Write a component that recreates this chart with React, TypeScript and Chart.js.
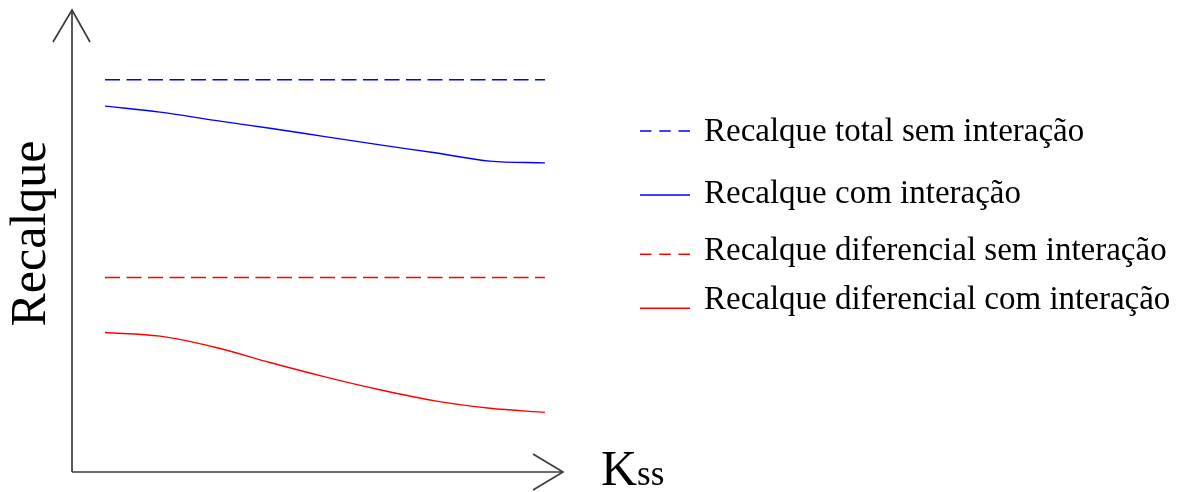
import React, { useEffect, useRef } from "react";
import { Chart, registerables } from "chart.js";

Chart.register(...registerables);

// Kss positions (arbitrary units) and settlement values (arbitrary units)
const kss = [0, 1.25, 2.5, 3.75, 5, 6.25, 7.5, 8.75, 10];
const totalSemInteracao = [84.9, 84.9, 84.9, 84.9, 84.9, 84.9, 84.9, 84.9, 84.9];
const totalComInteracao = [79.2, 77.9, 76.1, 74.4, 72.6, 70.8, 69.1, 67.3, 66.9];
const difSemInteracao = [42.1, 42.1, 42.1, 42.1, 42.1, 42.1, 42.1, 42.1, 42.1];
const difComInteracao = [30.2, 29.4, 27.0, 23.7, 20.6, 17.8, 15.4, 13.8, 12.9];

const seriesLabels = [
  "Recalque total sem interação",
  "Recalque com interação",
  "Recalque diferencial sem interação",
  "Recalque diferencial com interação",
];
const yAxisTitle = "Recalque";
const xAxisTitleMain = "K";
const xAxisTitleSub = "ss";

const SERIF = '"Liberation Serif", "DejaVu Serif", serif';

const decorPlugin = {
  id: "decor",
  afterDraw(chart: any) {
    const { ctx, chartArea } = chart;
    const { left, top, right, bottom } = chartArea;
    ctx.save();
    // axes
    ctx.strokeStyle = "#3c3c3c";
    ctx.lineWidth = 1.7;
    ctx.setLineDash([]);
    ctx.beginPath();
    ctx.moveTo(left, bottom);
    ctx.lineTo(left, top);
    ctx.moveTo(left, bottom);
    ctx.lineTo(right, bottom);
    ctx.stroke();
    // arrowheads
    ctx.beginPath();
    ctx.moveTo(left - 19, top + 32);
    ctx.lineTo(left, top);
    ctx.lineTo(left + 18, top + 32);
    ctx.stroke();
    ctx.beginPath();
    ctx.moveTo(right - 30, bottom - 18);
    ctx.lineTo(right, bottom);
    ctx.lineTo(right - 30, bottom + 18);
    ctx.stroke();

    // y title
    ctx.fillStyle = "#000";
    ctx.save();
    ctx.translate(45, 233.5);
    ctx.rotate(-Math.PI / 2);
    ctx.font = `50px ${SERIF}`;
    ctx.textAlign = "center";
    ctx.textBaseline = "alphabetic";
    ctx.fillText(yAxisTitle, 0, 0);
    ctx.restore();

    // x title
    ctx.textAlign = "left";
    ctx.textBaseline = "alphabetic";
    ctx.font = `50px ${SERIF}`;
    ctx.fillText(xAxisTitleMain, 601, 485);
    const kw = ctx.measureText(xAxisTitleMain).width;
    ctx.font = `35px ${SERIF}`;
    ctx.fillText(xAxisTitleSub, 601 + kw, 485);

    // legend
    const lineYs = [131, 195, 254.3, 308.3];
    const textYs = [140.7, 202.5, 260, 309];
    chart.data.datasets.forEach((ds: any, i: number) => {
      ctx.strokeStyle = ds.borderColor;
      ctx.lineWidth = 1.5;
      ctx.setLineDash(ds.borderDash && ds.borderDash.length ? [11.5, 7.75] : []);
      ctx.beginPath();
      ctx.moveTo(640, lineYs[i]);
      ctx.lineTo(690, lineYs[i]);
      ctx.stroke();
      ctx.setLineDash([]);
      ctx.fillStyle = "#000";
      ctx.font = `33px ${SERIF}`;
      ctx.fillText(ds.label, 704, textYs[i]);
    });
    ctx.restore();
  },
};

export default function App() {
  const canvasRef = useRef<HTMLCanvasElement | null>(null);

  useEffect(() => {
    document.body.style.margin = "0";
    const canvas = canvasRef.current;
    if (!canvas) return;
    const mk = (vals: number[]) => kss.map((x, i) => ({ x, y: vals[i] }));
    const chart = new Chart(canvas, {
      type: "line",
      data: {
        datasets: [
          {
            label: seriesLabels[0],
            data: mk(totalSemInteracao),
            borderColor: "#0000ff",
            borderWidth: 1.6,
            borderDash: [15, 6.5],
            pointRadius: 0,
            fill: false,
          },
          {
            label: seriesLabels[1],
            data: mk(totalComInteracao),
            borderColor: "#0000ff",
            borderWidth: 1.4,
            pointRadius: 0,
            cubicInterpolationMode: "monotone",
            fill: false,
          },
          {
            label: seriesLabels[2],
            data: mk(difSemInteracao),
            borderColor: "#ff0000",
            borderWidth: 1.6,
            borderDash: [15, 6.5],
            pointRadius: 0,
            fill: false,
          },
          {
            label: seriesLabels[3],
            data: mk(difComInteracao),
            borderColor: "#ff0000",
            borderWidth: 1.4,
            pointRadius: 0,
            cubicInterpolationMode: "monotone",
            fill: false,
          },
        ],
      },
      options: {
        animation: false,
        responsive: true,
        maintainAspectRatio: false,
        layout: { padding: { left: 72, top: 10, right: 632, bottom: 20 } },
        plugins: { legend: { display: false }, tooltip: { enabled: false }, title: { display: false } },
        scales: {
          x: { type: "linear", min: -0.75, max: 10.41, display: false },
          y: { type: "linear", min: 0, max: 100, display: false },
        },
      },
      plugins: [decorPlugin],
    } as any);
    return () => chart.destroy();
  }, []);

  return (
    <div style={{ position: "relative", width: "1195px", height: "492px", background: "#fff" }}>
      <canvas ref={canvasRef} />
    </div>
  );
}
